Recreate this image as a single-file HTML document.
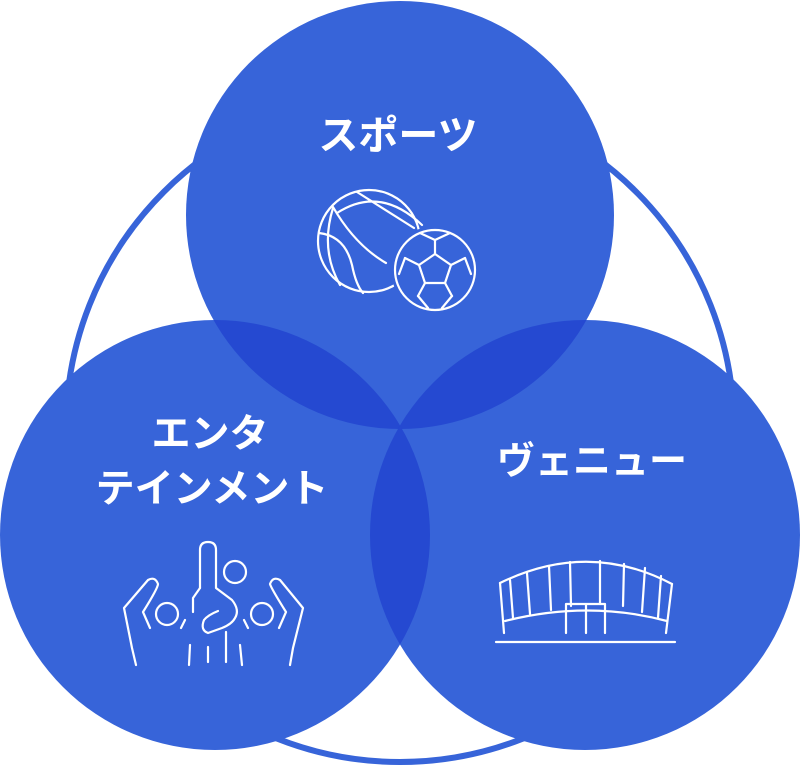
<!DOCTYPE html>
<html><head><meta charset="utf-8"><style>
html,body{margin:0;padding:0;background:#fff;}
svg{display:block}
text{font-family:"Liberation Sans","Noto Sans CJK JP",sans-serif;font-weight:bold;fill:#fff;text-anchor:middle}
</style></head><body>
<svg width="800" height="768" viewBox="0 0 800 768" xmlns="http://www.w3.org/2000/svg">
<defs>
<clipPath id="cT"><circle cx="400" cy="215" r="214"/></clipPath>
<clipPath id="cL"><circle cx="215" cy="535" r="215"/></clipPath>
</defs>
<circle cx="400" cy="428" r="334" fill="none" stroke="#3764d9" stroke-width="6"/>
<circle cx="400" cy="215" r="214" fill="#3764d9"/>
<circle cx="215" cy="535" r="215" fill="#3764d9"/>
<circle cx="585" cy="535" r="215" fill="#3764d9"/>
<g clip-path="url(#cT)"><circle cx="215" cy="535" r="215" fill="#2549d1"/><circle cx="585" cy="535" r="215" fill="#2549d1"/></g>
<g clip-path="url(#cL)"><circle cx="585" cy="535" r="215" fill="#2549d1"/></g>

<text x="398" y="149" font-size="40">スポーツ</text>
<text x="210" y="447" font-size="39">エンタ</text>
<text x="212" y="502" font-size="39">テインメント</text>
<text x="592" y="474" font-size="38">ヴェニュー</text>

<g fill="none" stroke="#fff" stroke-width="2.2" stroke-linecap="round" stroke-linejoin="round">
<!-- basketball -->
<circle cx="369" cy="241" r="51"/>
<path d="M357 192 L414 228"/>
<path d="M337 213 Q380 185 422 225"/>
<path d="M333 207 Q355 245 386 263"/>
<path d="M319 233 Q345 236 352 265 Q356 285 363 293"/>
<path d="M333 208 Q320 250 340 285"/>
<!-- soccer -->
<circle cx="435" cy="270" r="44" fill="#3764d9" stroke="none"/>
<circle cx="435" cy="270" r="40"/>
<polygon points="435,254 451,265 445,283 425,283 419,265"/>
<path d="M435 254 L435 240 M451 265 L465 258 M445 283 L452 296 M425 283 L418 296 M419 265 L405 258"/>
<path d="M435 240 L420 233 M435 240 L450 233 M465 258 L471 274 M452 296 L442 308 M418 296 L428 308 M405 258 L399 274"/>
<!-- crowd -->
<path d="M200 588 L200 550 Q200 542 208 542 Q216 542 216 550 L216 588 L232 600 Q240 610 235 618 Q232 624 222 628 L208 633 Q200 630 204 620 Q208 615 218 611"/>
<path d="M200 588 L193 598 L193 612"/>
<circle cx="235" cy="572" r="11"/>
<circle cx="167" cy="614" r="11"/>
<circle cx="262" cy="614" r="11"/>
<path d="M136 665 L132 648 L124 608 L148 580 Q155 576 158 584 Q158 588 143 612 L150 628"/>
<path d="M290 665 L293 648 L303 608 L280 580 Q273 576 270 584 Q271 588 286 612 L279 628"/>
<path d="M185 620 L181 628 M244 620 L248 628 M190 645 L189 665 M208 647 L208 662 M226 632 L226 662 M240 645 L242 665"/>
<!-- stadium -->
<path d="M500 583 Q588 540 672 584"/>
<path d="M505 621 Q588 600 667 621"/>
<path d="M500 583 L504 633 M672 584 L666 633 M510 580 L513 618 M527 573 L530 614 M549 566 L551 610 M570 562 L571 606 M600 561 L600 604 M624 564 L623 606 M645 568 L642 612 M661 576 L658 618"/>
<path d="M566 633 L566 604 L605 604 L605 633 M586 604 L586 633"/>
<path d="M496 642 L675 642"/>
</g>
</svg>
</body></html>
